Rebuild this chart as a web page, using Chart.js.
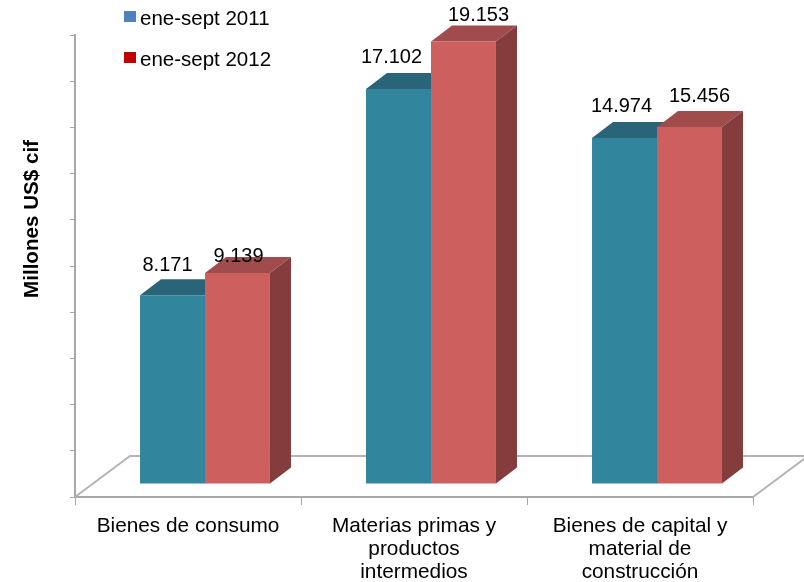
<!DOCTYPE html>
<html>
<head>
<meta charset="utf-8">
<script src="https://cdn.jsdelivr.net/npm/chart.js@4"></script>
<style>
  html, body { margin: 0; padding: 0; background: #fff; }
  #wrap { width: 804px; height: 582px; }
</style>
</head>
<body>
<div id="wrap"><canvas id="chart" width="804" height="582"></canvas></div>
<script>
// Data
const categories = [
  ['Bienes de consumo'],
  ['Materias primas y', 'productos', 'intermedios'],
  ['Bienes de capital y', 'material de', 'construcción']
];
const series2011 = [8171, 17102, 14974];
const series2012 = [9139, 19153, 15456];
const seriesNames = ['ene-sept 2011', 'ene-sept 2012'];
const yAxisTitle = 'Millones US$ cif';

// Look of the faux 3D box
const FONT = '"Liberation Sans", Arial, sans-serif';
const AXIS_GREY = '#a8a8a8';
const FLOOR_GREY = '#b4b4b4';
const BAR_SHIFT = { x: 17, y: -13 };   // bars stand in the middle of the floor
const BAR_DEPTH = { x: 21, y: -16 };
const FLOOR_DEPTH = { x: 55, y: -41 };
const faces = [
  { front: '#31859c', top: '#2a6478', side: '#235465' },
  { front: '#cd5f5f', top: '#a04c4c', side: '#843c3c' }
];
const legendColors = ['#4f81bd', '#c00000'];
const legendY = [11, 52];
// Hand placed nudges of the value labels, [dx, baseline above bar top] per dataset
const labelNudge = [
  [[-5, 24], [-7, 26], [-3, 26]],
  [[1, 11], [15, 21], [10, 25]]
];

const box3d = {
  id: 'box3d',
  beforeDatasetsDraw(chart) {
    const { ctx, scales: { x, y } } = chart;
    const left = x.left, right = x.right, floor = y.getPixelForValue(0);

    // floor outline behind the bars
    ctx.save();
    ctx.strokeStyle = FLOOR_GREY;
    ctx.lineWidth = 2;
    ctx.beginPath();
    ctx.moveTo(left, floor);
    ctx.lineTo(left + FLOOR_DEPTH.x, floor + FLOOR_DEPTH.y);
    ctx.lineTo(right + FLOOR_DEPTH.x, floor + FLOOR_DEPTH.y);
    ctx.lineTo(right, floor);
    ctx.stroke();
    ctx.restore();

    // stays translated so Chart.js draws the front faces in the shifted space
    ctx.save();
    ctx.translate(BAR_SHIFT.x, BAR_SHIFT.y);
    chart.data.datasets.forEach((ds, d) => {
      chart.getDatasetMeta(d).data.forEach(bar => {
        const l = bar.x - bar.width / 2, r = bar.x + bar.width / 2;
        const t = bar.y, b = bar.base;
        // top face
        ctx.fillStyle = faces[d].top;
        ctx.beginPath();
        ctx.moveTo(l, t);
        ctx.lineTo(l + BAR_DEPTH.x, t + BAR_DEPTH.y);
        ctx.lineTo(r + BAR_DEPTH.x, t + BAR_DEPTH.y);
        ctx.lineTo(r, t);
        ctx.closePath();
        ctx.fill();
        // right face
        ctx.fillStyle = faces[d].side;
        ctx.beginPath();
        ctx.moveTo(r, t);
        ctx.lineTo(r + BAR_DEPTH.x, t + BAR_DEPTH.y);
        ctx.lineTo(r + BAR_DEPTH.x, b + BAR_DEPTH.y);
        ctx.lineTo(r, b);
        ctx.closePath();
        ctx.fill();
      });
    });
  },
  afterDatasetsDraw(chart) {
    const { ctx } = chart;
    ctx.restore();

    // value labels
    ctx.save();
    ctx.font = '20px ' + FONT;
    ctx.fillStyle = '#000';
    ctx.textAlign = 'center';
    ctx.textBaseline = 'alphabetic';
    chart.data.datasets.forEach((ds, d) => {
      chart.getDatasetMeta(d).data.forEach((bar, i) => {
        const txt = ds.data[i].toLocaleString('de-DE');
        const [dx, up] = labelNudge[d][i];
        ctx.fillText(txt, bar.x + BAR_SHIFT.x + dx, bar.y + BAR_SHIFT.y - up);
      });
    });

    // legend
    ctx.textAlign = 'left';
    ctx.font = '20.5px ' + FONT;
    seriesNames.forEach((name, i) => {
      ctx.fillStyle = legendColors[i];
      ctx.fillRect(124, legendY[i], 12, 11);
      ctx.fillStyle = '#000';
      ctx.fillText(name, 140, legendY[i] + 14);
    });

    // y axis title, sits above the middle of the axis in the original
    ctx.translate(38, 219);
    ctx.rotate(-Math.PI / 2);
    ctx.textAlign = 'center';
    ctx.font = 'bold 20.6px ' + FONT;
    ctx.fillText(yAxisTitle, 0, 0);
    ctx.restore();
  }
};

new Chart(document.getElementById('chart').getContext('2d'), {
  type: 'bar',
  data: {
    labels: categories,
    datasets: [
      { label: seriesNames[0], data: series2011, backgroundColor: faces[0].front, clip: false },
      { label: seriesNames[1], data: series2012, backgroundColor: faces[1].front, clip: false }
    ]
  },
  options: {
    responsive: false,
    animation: false,
    layout: { padding: { top: 35, right: 51, left: 0, bottom: 0 } },
    plugins: { legend: { display: false }, tooltip: { enabled: false }, title: { display: false } },
    datasets: { bar: { categoryPercentage: 0.575, barPercentage: 1 } },
    scales: {
      x: {
        afterFit: s => { s.height = 85; },
        border: { color: AXIS_GREY, width: 2 },
        grid: { drawOnChartArea: false, color: AXIS_GREY, tickLength: 8, tickWidth: 1 },
        ticks: {
          color: '#000',
          font: { family: FONT, size: 20.8, lineHeight: 1.105 },
          padding: 10,
          maxRotation: 0,
          autoSkip: false
        }
      },
      y: {
        min: 0,
        max: 20000,
        afterFit: s => { s.width = 75; },
        border: { color: AXIS_GREY, width: 2 },
        grid: { drawOnChartArea: false, color: AXIS_GREY, tickLength: 5, tickWidth: 1 },
        ticks: { display: false, stepSize: 2000 }
      }
    }
  },
  plugins: [box3d]
});
</script>
</body>
</html>
